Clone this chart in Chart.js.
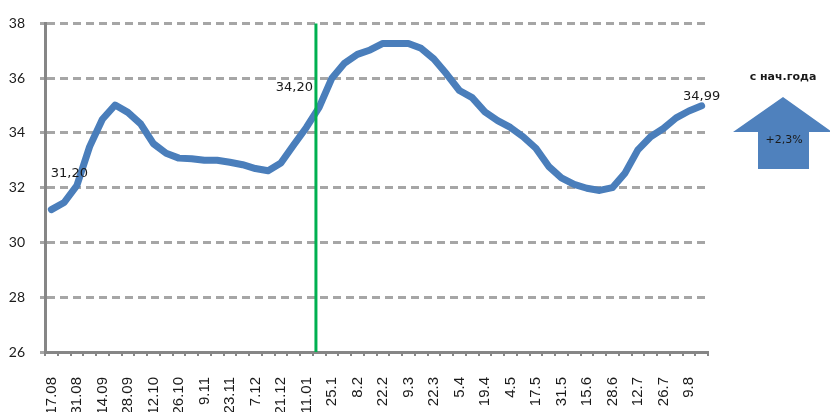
<!DOCTYPE html>
<html>
<head>
<meta charset="utf-8">
<script src="https://cdn.jsdelivr.net/npm/chart.js@4.4.1/dist/chart.umd.min.js"></script>
<style>
  html, body { margin: 0; padding: 0; background: #fff; overflow: hidden; }
</style>
</head>
<body>
<canvas id="chart" width="830" height="412"></canvas>
<script>
// weekly points, every other week is labelled on the axis
const categories = [
  "17.08", "", "31.08", "", "14.09", "", "28.09", "", "12.10", "", "26.10", "", "9.11", "",
  "23.11", "", "7.12", "", "21.12", "", "11.01", "", "25.1", "", "8.2", "", "22.2", "",
  "9.3", "", "22.3", "", "5.4", "", "19.4", "", "4.5", "", "17.5", "", "31.5", "",
  "15.6", "", "28.6", "", "12.7", "", "26.7", "", "9.8", ""
];

const rate = [
  31.20, 31.46, 32.08, 33.50, 34.50, 35.02, 34.75, 34.33, 33.61, 33.26, 33.08, 33.06, 33.00,
  33.00, 32.93, 32.84, 32.70, 32.62, 32.90, 33.56, 34.20, 34.93, 36.00, 36.55, 36.87, 37.03,
  37.27, 37.27, 37.27, 37.09, 36.70, 36.15, 35.55, 35.29, 34.77, 34.45, 34.20, 33.86, 33.44,
  32.78, 32.36, 32.12, 31.98, 31.90, 32.00, 32.54, 33.38, 33.86, 34.16, 34.55, 34.80, 34.99
];

// labelled points (index into rate) and their texts
const labelIdx = [0, 20, 51];
const labelText = ["31,20", "34,20", "34,99"];

// start of the year marker, between weeks 20 and 21
const yearStartIdx = 20.75;

const ytdText = "+2,3%";
const ytdTitle = "с нач.года";

const C = {
  line: "#4A7EBB",
  grid: "#A6A6A6",
  axis: "#868686",
  green: "#00B050",
  text: "#1a1a1a",
};

// offsets of the data labels from their points
const labelOffset = [[18, -36], [-12, -40], [0, -9]];

const overlay = {
  id: "overlay",
  afterDatasetsDraw(chart) {
    const { ctx, chartArea, scales: { x, y } } = chart;
    ctx.save();

    // green year marker
    const gx = x.getPixelForValue(yearStartIdx);
    ctx.strokeStyle = C.green;
    ctx.lineWidth = 3;
    ctx.beginPath();
    ctx.moveTo(gx, chartArea.top);
    ctx.lineTo(gx, chartArea.bottom);
    ctx.stroke();

    // data labels
    ctx.fillStyle = C.text;
    ctx.font = "13px 'DejaVu Sans'";
    ctx.textAlign = "center";
    ctx.textBaseline = "middle";
    labelIdx.forEach((idx, k) => {
      const px = x.getPixelForValue(idx);
      const py = y.getPixelForValue(rate[idx]);
      ctx.fillText(labelText[k], px + labelOffset[k][0], py + labelOffset[k][1]);
    });

    // arrow "since start of year"
    const cx = 783;
    ctx.fillStyle = "#4F81BD";
    ctx.beginPath();
    ctx.moveTo(cx, 97);
    ctx.lineTo(cx + 49, 132);
    ctx.lineTo(cx + 26, 132);
    ctx.lineTo(cx + 26, 169);
    ctx.lineTo(cx - 25, 169);
    ctx.lineTo(cx - 25, 132);
    ctx.lineTo(cx - 50, 132);
    ctx.closePath();
    ctx.fill();

    ctx.fillStyle = C.text;
    ctx.font = "11px 'DejaVu Sans'";
    ctx.fillText(ytdText, cx + 1, 140);
    ctx.font = "bold 11px 'DejaVu Sans'";
    ctx.fillText(ytdTitle, cx, 77);
    ctx.restore();
  },
};

new Chart(document.getElementById("chart"), {
  type: "line",
  data: {
    labels: categories,
    datasets: [{
      data: rate,
      borderColor: C.line,
      borderWidth: 7,
      borderJoinStyle: "round",
      borderCapStyle: "round",
      tension: 0,
      pointRadius: 0,
      fill: false,
    }],
  },
  options: {
    responsive: false,
    animation: false,
    devicePixelRatio: 1,
    layout: { padding: { top: 18, right: 122, left: 0, bottom: 0 } },
    plugins: { legend: { display: false }, tooltip: { enabled: false } },
    scales: {
      x: {
        offset: true,
        afterFit: (s) => { s.height = 60; },
        grid: {
          offset: true,
          drawOnChartArea: false,
          drawTicks: true,
          tickLength: 4,
          color: C.axis,
          lineWidth: 2,
        },
        border: { display: true, color: C.axis, width: 3 },
        ticks: {
          autoSkip: false,
          maxRotation: 90,
          minRotation: 90,
          padding: 21,
          color: C.text,
          font: { family: "'Liberation Sans'", size: 15 },
        },
      },
      y: {
        min: 26,
        max: 38,
        afterFit: (s) => { s.width = 45; },
        grid: {
          color: C.grid,
          lineWidth: 3,
          tickLength: 5,
          tickBorderDash: [8, 5],
        },
        border: { display: true, color: C.axis, width: 3, dash: [8, 5] },
        ticks: {
          stepSize: 2,
          padding: 15,
          color: C.text,
          font: { family: "Lato", size: 14 },
        },
      },
    },
  },
  plugins: [overlay],
});
</script>
</body>
</html>
